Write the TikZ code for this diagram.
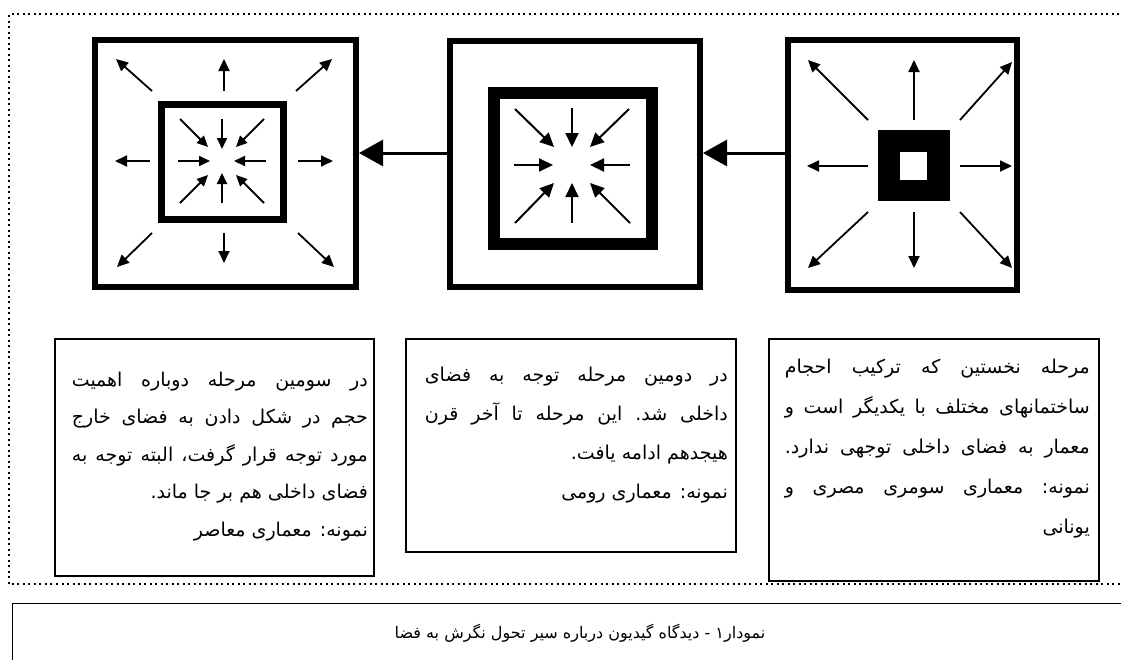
\documentclass[tikz,border=0pt]{standalone}
\usepackage{fontspec}
\setmainfont{DejaVu Sans}
\newfontfamily\fa[Script=Arabic]{DejaVu Sans}
\TeXXeTstate=1
\usetikzlibrary{arrows.meta,calc}

% one justified right-to-left line, and one set flush right
\newcommand\jline[1]{\hbox to \hsize{\rule{0pt}{18pt}\frenchspacing\spaceskip=0.22em plus 1fil minus 0.08em\relax\beginR #1\endR}}
\newcommand\rline[1]{\hbox to \hsize{\rule{0pt}{18pt}\hfil\beginR #1\endR}}

\tikzset{
  picframe/.style={draw, line width=6pt, inner sep=0pt},
  textframe/.style={draw, line width=1.6pt, inner sep=0pt},
  bodytext/.style={inner sep=0pt, anchor=north east},
  ray/.style={line width=1.8pt, -{Triangle[length=12pt,width=11pt]}},
  inray/.style={line width=1.8pt, -{Triangle[length=11pt,width=10pt]}},
  bigray/.style={line width=2pt, -{Triangle[length=14pt,width=13pt]}},
  link/.style={line width=3pt, -{Triangle[length=24pt,width=26pt]}},
  dotframe/.style={line width=2pt, dash pattern=on 2pt off 3.5pt},
}

\begin{document}
\begin{tikzpicture}[x=1pt,y=-1pt]
\useasboundingbox (0,0) rectangle (1121,659);
\clip (0,0) rectangle (1121,659);

% dotted frame around the three stages
\draw[dotframe] (1130,14) -- (9,14) -- (9,584) -- (1130,584);

% three stage pictograms
\node[picframe, minimum width=261pt, minimum height=247pt] (p1) at (225.5,163.5) {};
\node[picframe, minimum width=250pt, minimum height=246pt] (p2) at (575,164) {};
\node[picframe, minimum width=229pt, minimum height=250pt] (p3) at (902.5,165) {};

% stage 3: outward and inward rays
\draw[line width=7pt] (161.5,104.5) rectangle (283.5,219.5);
\begin{scope}[shift={(224,161)}]
  \foreach \ax/\ay/\bx/\by in {0/-70/0/-102, 0/72/0/102, -74/0/-109/0, 74/0/109/0,
      -72/-70/-108/-102, 72/-70/108/-102, -72/72/-107/106, 74/72/110/106}
    \draw[ray] (\ax,\ay) -- (\bx,\by);
\end{scope}
\begin{scope}[shift={(222,161)}]
  \foreach \ax/\ay/\bx/\by in {0/-42/0/-12, 0/42/0/12, -44/0/-12/0, 44/0/12/0,
      -42/-42/-14/-14, 42/-42/14/-14, -42/42/-14/14, 42/42/14/14}
    \draw[inray] (\ax,\ay) -- (\bx,\by);
\end{scope}

% stage 2: inward rays
\draw[line width=12pt] (494,93) rectangle (652,244);
\begin{scope}[shift={(572,165)}]
  \foreach \ax/\ay/\bx/\by in {0/-57/0/-18, 0/58/0/18, -58/0/-19/0, 58/0/18/0,
      -57/-56/-18/-18, 57/-56/18/-18, -57/58/-18/18, 58/58/18/18}
    \draw[bigray] (\ax,\ay) -- (\bx,\by);
\end{scope}

% stage 1: solid mass with outward rays
\fill (878,130) rectangle (950,201);
\fill[white] (900,152) rectangle (927,180);
\begin{scope}[shift={(914,166)}]
  \foreach \ax/\ay/\bx/\by in {0/-46/0/-106, 0/46/0/102, -46/0/-107/0, 46/0/98/0,
      -46/-46/-106/-106, 46/-46/98/-104, -46/46/-106/102, 46/46/98/102}
    \draw[ray] (\ax,\ay) -- (\bx,\by);
\end{scope}

% links between stages
\coordinate (row) at (0,153);
\draw[link] (p3.west |- row) -- (p2.east |- row);
\draw[link] (p2.west |- row) -- (p1.east |- row);

% description boxes
\node[textframe, minimum width=319.5pt, minimum height=237.5pt] (t1) at (214.5,457.5) {};
\node[textframe, minimum width=330.5pt, minimum height=213.5pt] (t2) at (571,445.5) {};
\node[textframe, minimum width=330.5pt, minimum height=242.5pt] (t3) at (934,460) {};

\node[bodytext, font=\fa\fontsize{19pt}{37.5pt}\selectfont] (d1) at ($(t1.north east)+(-7,30)$)
 {\vbox{\hsize=296pt
  \jline{در سومین مرحله دوباره اهمیت}
  \jline{حجم در شکل دادن به فضای خارج}
  \jline{مورد توجه قرار گرفت، البته توجه به}
  \rline{فضای داخلی هم بر جا ماند.}
  \rline{نمونه: معماری معاصر}}};

\node[bodytext, font=\fa\fontsize{19pt}{39pt}\selectfont] (d2) at ($(t2.north east)+(-9,25)$)
 {\vbox{\hsize=303pt
  \jline{در دومین مرحله توجه به فضای}
  \jline{داخلی شد. این مرحله تا آخر قرن}
  \rline{هیجدهم ادامه یافت.}
  \rline{نمونه: معماری رومی}}};

\node[bodytext, font=\fa\fontsize{19pt}{40pt}\selectfont] (d3) at ($(t3.north east)+(-10,17)$)
 {\vbox{\hsize=305pt
  \jline{مرحله نخستین که ترکیب احجام}
  \jline{ساختمانهای مختلف با یکدیگر است و}
  \jline{معمار به فضای داخلی توجهی ندارد.}
  \jline{نمونه: معماری سومری مصری و}
  \rline{یونانی}}};

% caption box
\node[draw, line width=1.3pt, minimum width=1123pt, minimum height=80pt, anchor=north west] (cap) at (12,603) {};
\node[font=\fa\fontsize{16pt}{20pt}\selectfont] (captext) at (580,633)
 {\beginR نمودار۱ - دیدگاه گیدیون درباره سیر تحول نگرش به فضا\endR};
\end{tikzpicture}
\end{document}
